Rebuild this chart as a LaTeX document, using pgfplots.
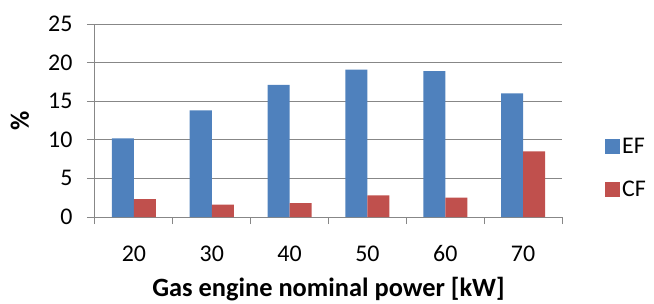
\documentclass[border=0pt]{standalone}
\usepackage{fontspec}
\setmainfont{Carlito}
\usepackage{pgfplots}
\pgfplotsset{compat=1.18}
\definecolor{efblue}{HTML}{4F81BD}
\definecolor{cfred}{HTML}{C0504D}
\definecolor{gridgray}{HTML}{878787}
\begin{document}
\begin{tikzpicture}
\begin{axis}[
  scale only axis,
  width=467bp, height=193bp,
  ymin=0, ymax=25, ytick={0,5,...,25},
  xmin=-0.5, xmax=5.5,
  xtick={0,...,5},
  xticklabels={20,30,40,50,60,70},
  minor xtick={-0.5,0.5,...,5.5},
  major x tick style={draw=none},
  minor tick length=7bp,
  major tick length=8bp,
  tick align=outside,
  xtick pos=bottom, ytick pos=left,
  axis x line*=bottom, axis y line*=left,
  axis line style={gridgray, line width=1bp},
  every tick/.style={gridgray, line width=1bp},
  ymajorgrids,
  grid style={gridgray, line width=1bp},
  ybar=0pt, bar width=22bp,
  tick label style={font=\fontsize{24}{28}\selectfont},
  /pgf/number format/assume math mode=true,
  xticklabel style={yshift=-17bp},
  yticklabel style={xshift=-11bp},
  xlabel={Gas engine nominal power [kW]},
  ylabel={\%},
  label style={font=\bfseries\fontsize{26.5}{30}\selectfont},
  xlabel style={at={(axis description cs:0.5,-0.376)}, anchor=center, inner sep=0pt},
  ylabel style={at={(axis description cs:-0.1606,0.5)}, anchor=center},
  legend style={at={(1,0.254)}, anchor=west, xshift=43bp, draw=none, fill=none,
    font=\fontsize{24}{28}\selectfont, row sep=22bp, inner sep=0pt},
  legend cell align=left,
  legend image code/.code={\fill[#1] (0bp,-7.5bp) rectangle (15bp,7.5bp);},
]
\addplot[fill=efblue, draw=none] coordinates {(0,10.2) (1,13.8) (2,17.1) (3,19.1) (4,18.9) (5,16.0)};
\addplot[fill=cfred, draw=none] coordinates {(0,2.3) (1,1.6) (2,1.8) (3,2.8) (4,2.5) (5,8.5)};
\legend{EF,CF}
\end{axis}
\pgfresetboundingbox
\path[use as bounding box] (-95bp,-87bp) rectangle (559bp,217bp);
\end{tikzpicture}
\end{document}
